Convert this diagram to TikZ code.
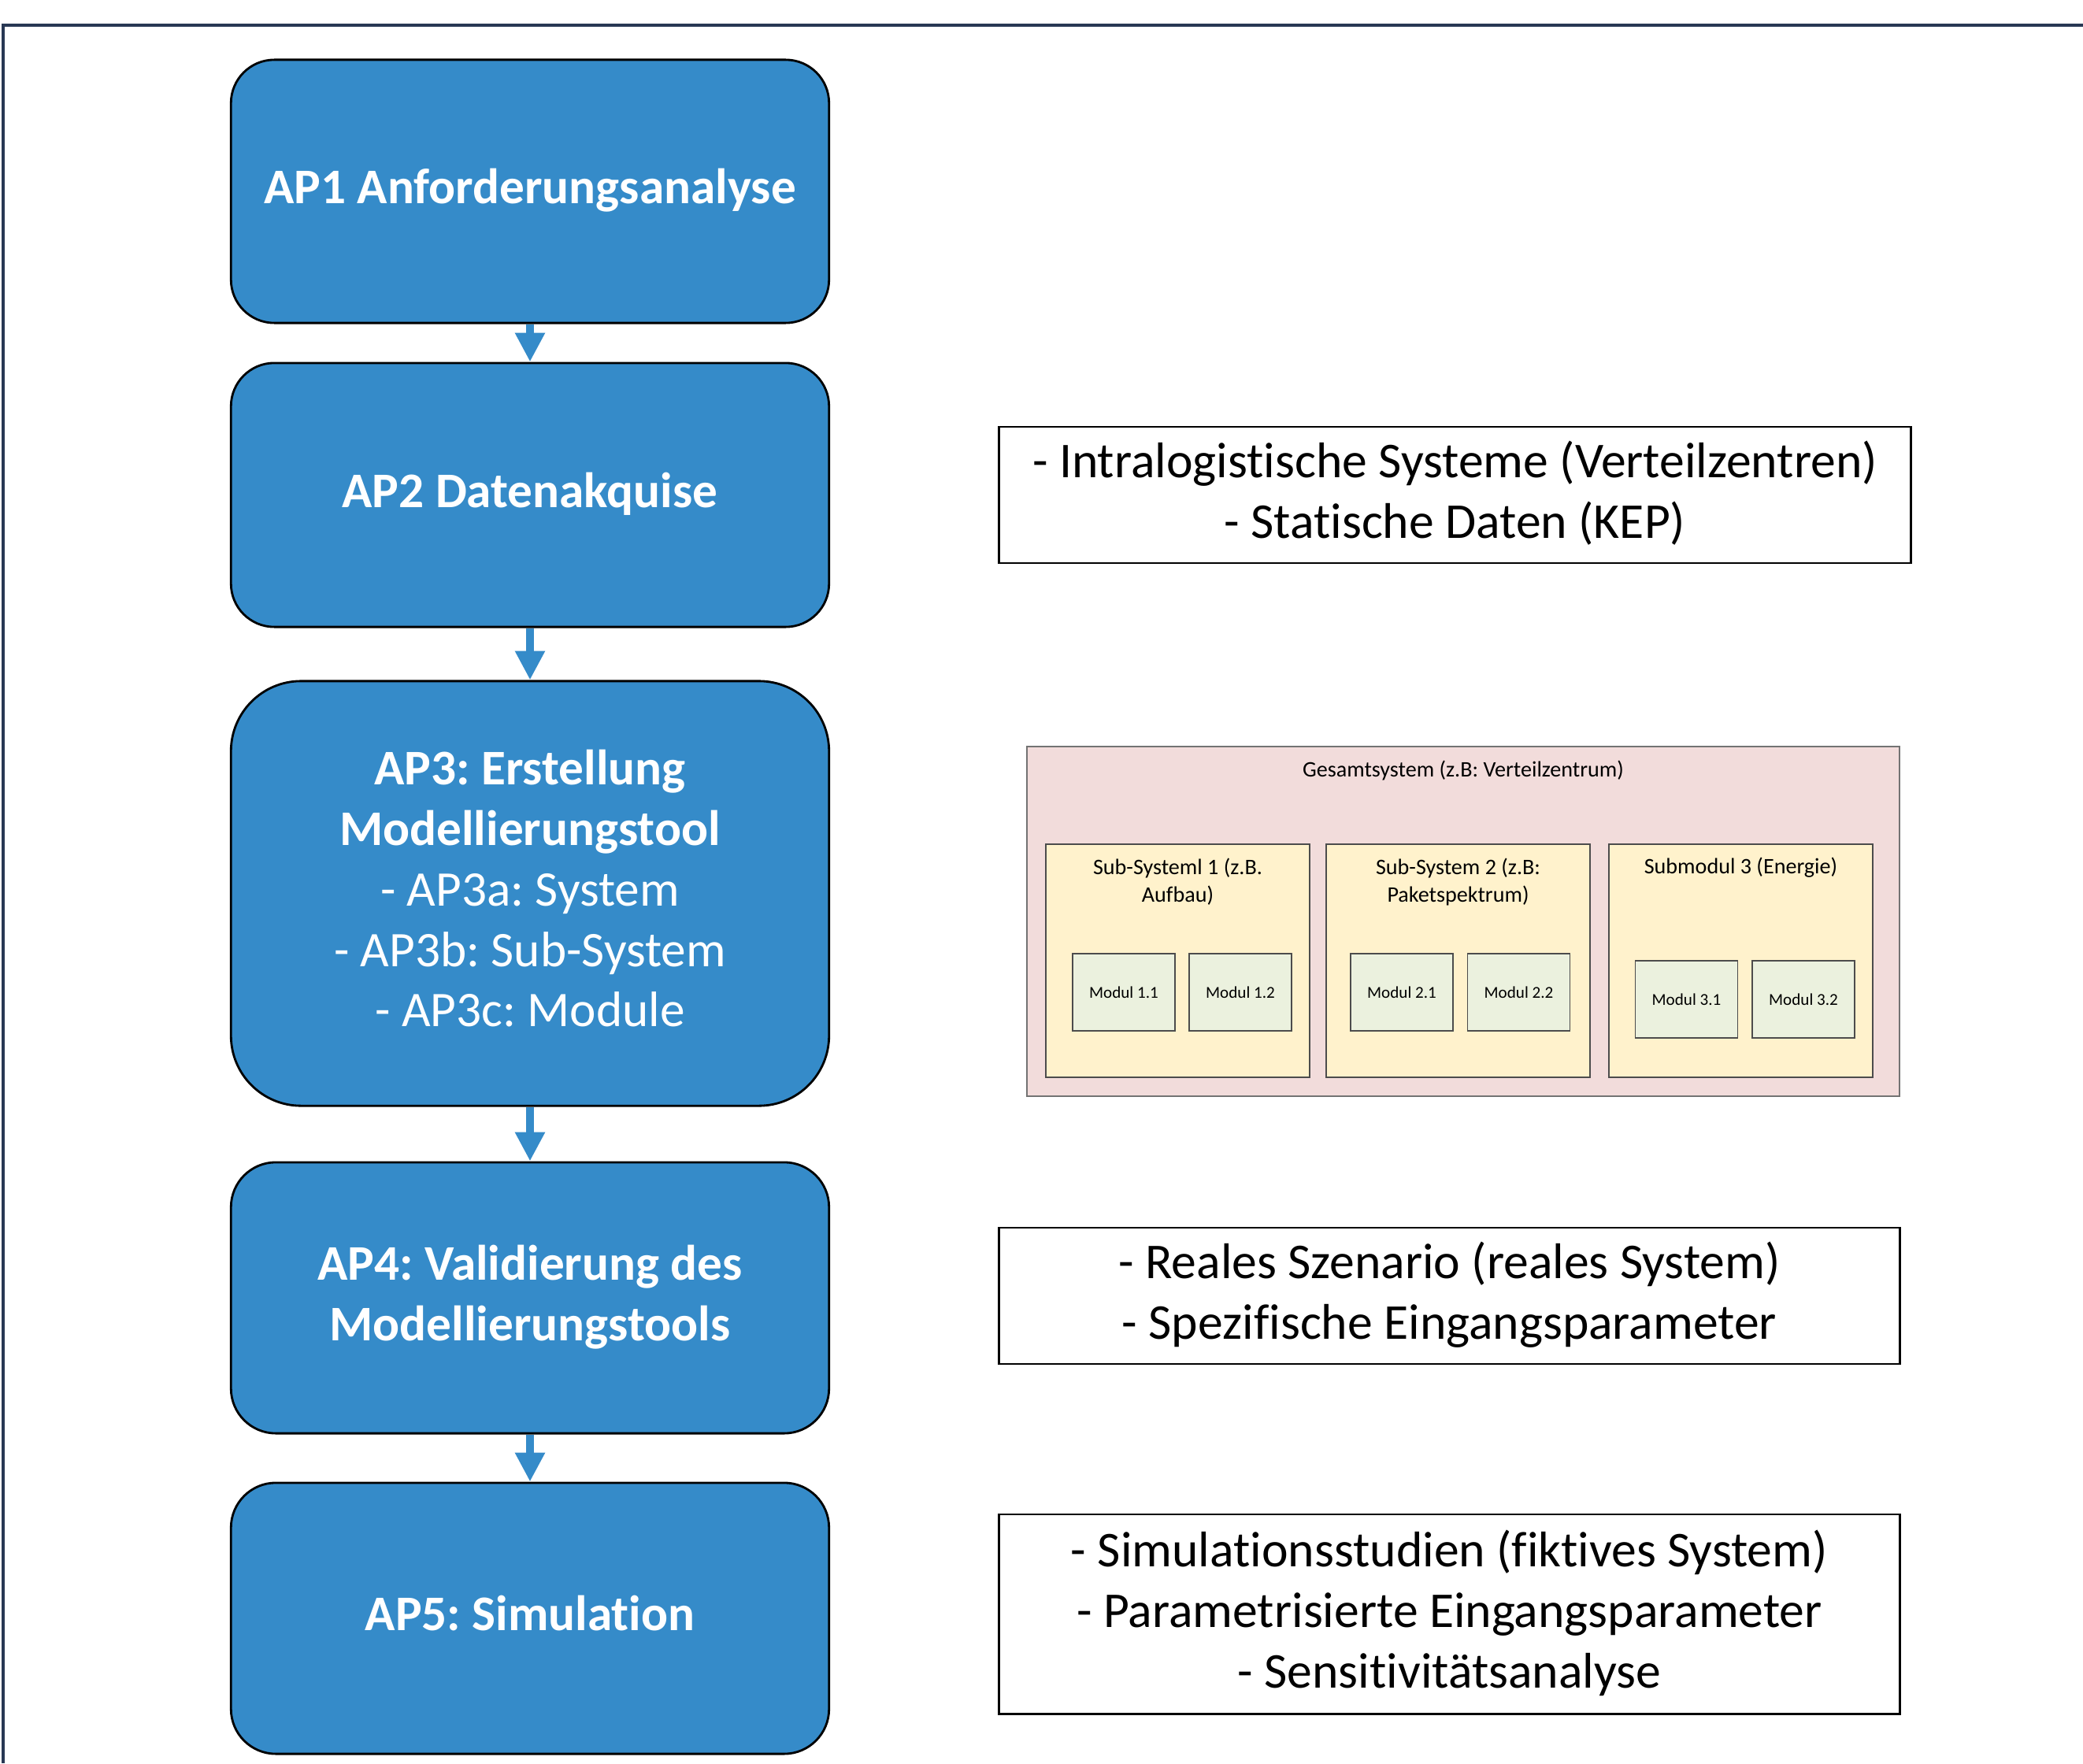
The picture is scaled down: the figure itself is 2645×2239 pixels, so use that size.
\documentclass[tikz,border=0pt]{standalone}
\usepackage{fontspec}
\setmainfont[Ligatures=NoCommon]{Carlito}
\usetikzlibrary{arrows.meta}
\frenchspacing

\definecolor{apblue}{RGB}{53,139,201}
\definecolor{framecol}{RGB}{40,56,84}
\definecolor{gesamtfill}{RGB}{242,220,219}
\definecolor{subfill}{RGB}{255,242,204}
\definecolor{modulfill}{RGB}{235,241,222}
\newcommand{\apstrut}{\rule[-3.7pt]{0pt}{15.3pt}}

\begin{document}
\begin{tikzpicture}[x=0.01cm,y=-0.01cm,
    apbox/.style={draw=black, line width=0.8pt, fill=apblue, rounded corners=#1,
        minimum width=7.59cm, inner sep=0pt, text=white, align=center,
        font=\fontsize{18}{21.85}\selectfont},
    infobox/.style={draw=black, line width=0.8pt, fill=white, inner sep=0pt, align=center,
        font=\fontsize{18.1}{21.85}\selectfont},
    aparrow/.style={draw=apblue, line width=3.1pt, -{Triangle[width=10.2pt,length=10.5pt]}},
    subbox/.style={draw=black!70, line width=0.5pt, fill=subfill, minimum width=3.35cm,
        minimum height=2.96cm, inner sep=0pt},
    modul/.style={draw=black!70, line width=0.5pt, fill=modulfill, minimum width=1.3cm,
        minimum height=0.98cm, inner sep=0pt, font=\fontsize{6}{7}\selectfont},
    smalltext/.style={align=center, inner sep=0pt, font=\fontsize{8}{9.96}\selectfont}]
    \useasboundingbox (0,0) rectangle (2645,2239);
    \draw[framecol, line width=0.9pt] (4,2239) -- (4,32) -- (2645,32);

    % Arbeitspakete
    \node[apbox=0.55cm, minimum height=3.34cm] (ap1) at (673,243)
        {\apstrut\bfseries AP1 Anforderungsanalyse\apstrut};
    \node[apbox=0.55cm, minimum height=3.35cm] (ap2) at (673,628.5)
        {\apstrut\bfseries AP2 Datenakquise\apstrut};
    \node[apbox=0.89cm, minimum height=5.39cm] (ap3) at (673,1134.5)
        {\apstrut\bfseries AP3: Erstellung\\ \bfseries Modellierungstool\\- AP3a: System\\- AP3b: Sub-System\\- AP3c: Module\apstrut};
    \node[apbox=0.57cm, minimum height=3.44cm] (ap4) at (673,1648)
        {\apstrut\bfseries AP4: Validierung des\\ \bfseries Modellierungstools\apstrut};
    \node[apbox=0.57cm, minimum height=3.44cm] (ap5) at (673,2055)
        {\apstrut\bfseries AP5: Simulation\apstrut};

    \draw[aparrow] (ap1) -- (ap2);
    \draw[aparrow] (ap2) -- (ap3);
    \draw[aparrow] (ap3) -- (ap4);
    \draw[aparrow] (ap4) -- (ap5);

    % Erlaeuterungen
    \node[infobox, minimum width=11.57cm, minimum height=1.73cm] (info2) at (1847.5,628.5)
        {\apstrut- Intralogistische Systeme (Verteilzentren)\\- Statische Daten (KEP)\apstrut};
    \node[infobox, minimum width=11.43cm, minimum height=1.73cm] (info4) at (1840.5,1645.5)
        {\apstrut- Reales Szenario (reales System)\\- Spezifische Eingangsparameter\apstrut};
    \node[infobox, minimum width=11.43cm, minimum height=2.53cm] (info5) at (1840.5,2049.5)
        {\apstrut- Simulationsstudien (fiktives System)\\- Parametrisierte Eingangsparameter\\- Sensitivitätsanalyse\apstrut};

    % Systemaufbau
    \node[draw=black!55, line width=0.5pt, fill=gesamtfill, minimum width=11.08cm,
        minimum height=4.44cm] (gesamt) at (1858,1170) {};
    \node[smalltext] (gtitle) at (1858,978) {Gesamtsystem (z.B: Verteilzentrum)};

    \node[subbox] (sub1) at (1495.5,1220) {};
    \node[subbox] (sub2) at (1851.5,1220) {};
    \node[subbox] (sub3) at (2210.5,1220) {};
    \node[smalltext] (sub1t) at (1495.5,1119.5) {Sub-Systeml 1 (z.B.\\Aufbau)};
    \node[smalltext] (sub2t) at (1851.5,1119.5) {Sub-System 2 (z.B:\\Paketspektrum)};
    \node[smalltext] (sub3t) at (2210.5,1102) {Submodul 3 (Energie)};

    \foreach \n/\x/\y/\t in {m11/1427/1260/1.1, m12/1575/1260/1.2, m21/1780/1260/2.1,
        m22/1928.5/1260/2.2, m31/2141.5/1269/3.1, m32/2290/1269/3.2}
    {
        \node[modul] (\n) at (\x,\y) {Modul \t};
    }
\end{tikzpicture}
\end{document}
